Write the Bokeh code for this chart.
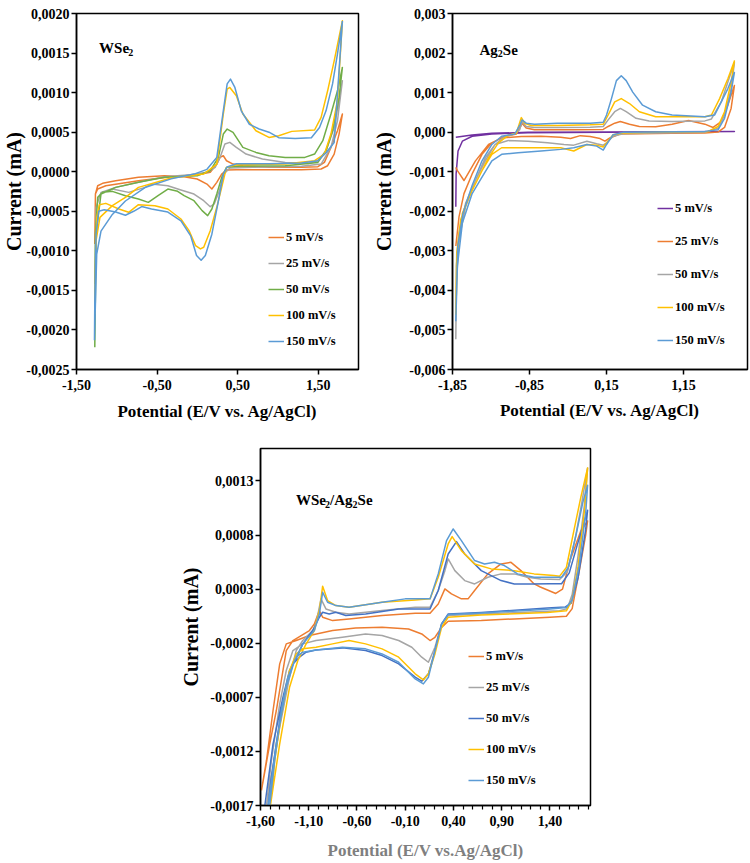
from bokeh.plotting import figure
from bokeh.models import Range1d, FixedTicker, CustomJSTickFormatter, Label, Spacer
from bokeh.layouts import column, row
from bokeh.embed import file_html
from bokeh.resources import INLINE

FONT = "Liberation Serif"

# ---------------- data (potential in V, current in mA) ----------------
rates = ["5 mV/s", "25 mV/s", "50 mV/s", "100 mV/s", "150 mV/s"]

# WSe2
wse2_x_5 = [-1.273, -1.265, -1.237, -1.136, -0.731, -0.326, -0.002, 0.160, 0.241, 0.281, 0.322, 0.362, 0.443, 0.565, 0.889, 1.293, 1.496, 1.577, 1.658, 1.739, 1.800,
            1.759, 1.698, 1.617, 1.536, 1.293, 0.484, 0.362, 0.302, 0.241, 0.180, 0.119, -0.002, -0.164, -0.407, -0.731, -1.014, -1.176, -1.237, -1.265, -1.273]
wse2_y_5 = [-9.13e-4, -2.82e-4, -2.19e-4, -1.77e-4, -1.13e-4, -0.63e-4, -0.38e-4, -0.08e-4, 0.97e-4, 1.81e-4, 2.02e-4, 1.39e-4, 0.97e-4, 0.76e-4, 0.55e-4, 0.55e-4, 0.64e-4, 1.18e-4, 3.08e-4, 5.18e-4, 7.29e-4,
            4.76e-4, 2.23e-4, 0.76e-4, 0.34e-4, 0.26e-4, 0.26e-4, 0.21e-4, -0.29e-4, -1.34e-4, -2.19e-4, -1.56e-4, -0.92e-4, -0.63e-4, -0.5e-4, -0.71e-4, -1.13e-4, -1.47e-4, -1.77e-4, -2.82e-4, -9.13e-4]
wse2_x_25 = [-1.273, -1.257, -1.196, -1.014, -0.731, -0.407, -0.083, 0.119, 0.221, 0.281, 0.342, 0.403, 0.484, 0.605, 0.808, 1.091, 1.374, 1.496, 1.597, 1.698, 1.800,
             1.739, 1.658, 1.536, 1.293, 0.686, 0.403, 0.330, 0.273, 0.209, 0.160, 0.079, -0.042, -0.204, -0.366, -0.569, -0.650, -0.852, -1.055, -1.196, -1.257, -1.273]
wse2_y_25 = [-14.19e-4, -4.5e-4, -2.61e-4, -1.98e-4, -1.34e-4, -0.63e-4, -0.38e-4, -0.08e-4, 0.55e-4, 1.81e-4, 3.5e-4, 3.71e-4, 3.08e-4, 2.23e-4, 1.6e-4, 1.18e-4, 1.05e-4, 1.39e-4, 2.66e-4, 5.6e-4, 11.5e-4,
             6.44e-4, 3.08e-4, 0.97e-4, 0.68e-4, 0.55e-4, 0.47e-4, -0.29e-4, -2.4e-4, -4.08e-4, -4.42e-4, -3.66e-4, -2.82e-4, -2.31e-4, -1.77e-4, -1.56e-4, -1.98e-4, -2.61e-4, -2.19e-4, -2.61e-4, -4.5e-4, -14.19e-4]
wse2_x_50 = [-1.273, -1.257, -1.196, -1.014, -0.731, -0.407, -0.002, 0.160, 0.261, 0.322, 0.370, 0.443, 0.565, 0.727, 0.889, 1.091, 1.334, 1.455, 1.557, 1.658, 1.739, 1.800,
             1.759, 1.678, 1.597, 1.496, 1.091, 0.484, 0.362, 0.302, 0.241, 0.180, 0.128, 0.059, -0.042, -0.164, -0.245, -0.366, -0.488, -0.609, -0.731, -0.893, -1.055, -1.176, -1.237, -1.265, -1.273]
wse2_y_50 = [-22.18e-4, -7.87e-4, -2.82e-4, -1.98e-4, -1.34e-4, -0.71e-4, -0.5e-4, 0.13e-4, 1.81e-4, 4.76e-4, 5.39e-4, 4.97e-4, 3.08e-4, 2.44e-4, 2.02e-4, 1.81e-4, 1.81e-4, 2.23e-4, 3.92e-4, 7.29e-4, 10.23e-4, 13.18e-4,
             9.39e-4, 5.18e-4, 2.66e-4, 1.18e-4, 0.76e-4, 0.68e-4, 0.55e-4, -0.71e-4, -2.82e-4, -4.71e-4, -5.55e-4, -4.92e-4, -3.66e-4, -3.03e-4, -2.48e-4, -2.19e-4, -3.03e-4, -3.87e-4, -3.45e-4, -3.03e-4, -2.48e-4, -2.61e-4, -3.24e-4, -7.87e-4, -22.18e-4]
wse2_x_100 = [-1.273, -1.257, -1.209, -1.055, -0.893, -0.731, -0.326, 0.079, 0.241, 0.322, 0.370, 0.403, 0.484, 0.565, 0.727, 0.889, 1.010, 1.172, 1.455, 1.536, 1.617, 1.698, 1.800,
              1.739, 1.658, 1.577, 1.455, 1.091, 0.484, 0.362, 0.302, 0.241, 0.160, 0.079, 0.038, -0.022, -0.103, -0.204, -0.366, -0.528, -0.731, -0.852, -0.974, -1.136, -1.217, -1.249, -1.265, -1.273]
wse2_y_100 = [-17.97e-4, -8.71e-4, -5.77e-4, -4.29e-4, -3.24e-4, -1.98e-4, -0.8e-4, -0.29e-4, 0.97e-4, 7.29e-4, 10.44e-4, 10.65e-4, 9.6e-4, 7.29e-4, 5.18e-4, 4.34e-4, 4.55e-4, 5.1e-4, 5.27e-4, 6.87e-4, 10.23e-4, 14.02e-4, 19.07e-4,
              8.97e-4, 4.76e-4, 2.23e-4, 1.39e-4, 0.97e-4, 0.89e-4, 0.55e-4, -1.98e-4, -4.5e-4, -7.45e-4, -9.55e-4, -9.76e-4, -9.34e-4, -7.45e-4, -5.98e-4, -4.71e-4, -4.29e-4, -4.17e-4, -5.13e-4, -4.71e-4, -4.0e-4, -4.17e-4, -5.77e-4, -12.08e-4, -17.97e-4]
wse2_x_150 = [-1.277, -1.249, -1.196, -1.055, -0.893, -0.650, -0.326, -0.042, 0.119, 0.241, 0.322, 0.370, 0.411, 0.464, 0.545, 0.646, 0.767, 0.889, 1.010, 1.213, 1.415, 1.516, 1.597, 1.678, 1.739, 1.800,
              1.698, 1.597, 1.496, 1.293, 0.889, 0.484, 0.370, 0.322, 0.261, 0.180, 0.099, 0.047, -0.010, -0.083, -0.204, -0.366, -0.569, -0.690, -0.791, -0.893, -1.014, -1.156, -1.225, -1.257, -1.273, -1.277]
wse2_y_150 = [-21.3e-4, -10.4e-4, -7.5e-4, -5.4e-4, -3.7e-4, -2.0e-4, -0.9e-4, -0.3e-4, 0.3e-4, 1.8e-4, 7.7e-4, 11.1e-4, 11.7e-4, 10.7e-4, 7.7e-4, 6.0e-4, 5.4e-4, 5.0e-4, 4.3e-4, 4.2e-4, 4.3e-4, 5.6e-4, 7.7e-4, 11.1e-4, 14.9e-4, 19.0e-4,
              3.7e-4, 2.4e-4, 1.4e-4, 1.1e-4, 1.0e-4, 1.0e-4, 0.6e-4, -0.3e-4, -3.7e-4, -7.9e-4, -10.6e-4, -11.2e-4, -10.6e-4, -8.1e-4, -6.2e-4, -5.1e-4, -4.7e-4, -4.4e-4, -5.0e-4, -5.5e-4, -5.1e-4, -4.8e-4, -5.0e-4, -7.9e-4, -16.3e-4, -21.3e-4]

# Ag2Se
ag_x_5 = [-1.807, -1.803, -1.778, -1.722, -1.595, -1.339, -0.871, 0.150, 1.810, 0.150, -0.871, -1.339, -1.595, -1.807]
ag_y_5 = [-18.84e-4, -10.56e-4, -4.77e-4, -2.28e-4, -1.04e-4, -0.46e-4, -0.13e-4, -0.05e-4, 0.2e-4, 0.03e-4, -0.05e-4, -0.3e-4, -0.71e-4, -1.29e-4]
ag_x_25 = [-1.807, -1.765, -1.701, -1.595, -1.467, -1.339, -1.169, -1.020, -0.965, -0.948, -0.893, -0.786, -0.276, 0.107, 0.171, 0.256, 0.329, 0.448, 0.576, 0.788, 1.001, 1.214, 1.427, 1.533, 1.639, 1.724, 1.810,
           1.767, 1.682, 1.597, 1.427, 1.001, 0.576, 0.320, 0.193, 0.129, 0.065, -0.063, -0.190, -0.318, -0.446, -0.701, -0.956, -1.212, -1.382, -1.552, -1.701, -1.786, -1.807]
ag_y_25 = [-28.78e-4, -21.33e-4, -15.53e-4, -10.56e-4, -5.6e-4, -2.7e-4, -1.04e-4, -0.46e-4, 1.44e-4, 2.27e-4, 1.03e-4, 0.61e-4, 0.61e-4, 0.7e-4, 1.44e-4, 2.27e-4, 2.68e-4, 2.02e-4, 1.44e-4, 1.36e-4, 2.02e-4, 2.93e-4, 2.02e-4, 1.19e-4, 2.68e-4, 6.82e-4, 11.79e-4,
           6.0e-4, 1.19e-4, 0.03e-4, -0.22e-4, -0.3e-4, -0.38e-4, -0.46e-4, -1.46e-4, -2.28e-4, -1.62e-4, -1.12e-4, -0.88e-4, -1.62e-4, -1.29e-4, -1.04e-4, -1.12e-4, -1.46e-4, -3.11e-4, -7.25e-4, -12.22e-4, -9.73e-4, -8.9e-4]
ag_x_50 = [-1.807, -1.799, -1.765, -1.680, -1.552, -1.424, -1.297, -1.169, -1.041, -0.978, -0.948, -0.893, -0.786, -0.488, -0.063, 0.107, 0.171, 0.256, 0.329, 0.405, 0.533, 0.703, 1.001, 1.427, 1.512, 1.639, 1.724, 1.810,
           1.767, 1.682, 1.597, 1.427, 0.788, 0.363, 0.235, 0.150, 0.107, 0.022, -0.105, -0.276, -0.403, -0.616, -0.871, -1.127, -1.297, -1.424, -1.552, -1.680, -1.765, -1.799, -1.807]
ag_y_50 = [-52.36e-4, -33.74e-4, -25.47e-4, -18.01e-4, -12.22e-4, -7.25e-4, -3.11e-4, -1.04e-4, -0.46e-4, 0.61e-4, 2.68e-4, 1.44e-4, 1.19e-4, 1.19e-4, 1.27e-4, 1.44e-4, 3.1e-4, 5.17e-4, 6.0e-4, 5.17e-4, 3.51e-4, 2.85e-4, 2.68e-4, 2.85e-4, 3.34e-4, 7.65e-4, 12.62e-4, 17.58e-4,
           10.96e-4, 4.34e-4, 1.03e-4, -0.05e-4, -0.22e-4, -0.38e-4, -1.04e-4, -2.7e-4, -3.28e-4, -2.95e-4, -2.28e-4, -3.28e-4, -3.11e-4, -2.7e-4, -2.28e-4, -2.12e-4, -3.11e-4, -6.43e-4, -12.22e-4, -18.84e-4, -27.12e-4, -37.88e-4, -52.36e-4]
ag_x_100 = [-1.807, -1.795, -1.744, -1.637, -1.510, -1.382, -1.254, -1.127, -1.020, -0.973, -0.956, -0.914, -0.829, -0.488, -0.063, 0.107, 0.171, 0.256, 0.341, 0.448, 0.576, 0.788, 1.214, 1.427, 1.512, 1.618, 1.724, 1.810,
            1.767, 1.682, 1.597, 1.469, 0.788, 0.363, 0.235, 0.150, 0.107, 0.022, -0.105, -0.276, -0.446, -0.701, -0.999, -1.212, -1.339, -1.467, -1.595, -1.722, -1.786, -1.807]
ag_y_100 = [-46.15e-4, -30.43e-4, -22.15e-4, -16.35e-4, -11.39e-4, -6.43e-4, -2.7e-4, -0.79e-4, -0.22e-4, 2.68e-4, 3.68e-4, 2.27e-4, 1.69e-4, 1.69e-4, 1.85e-4, 2.02e-4, 4.34e-4, 7.65e-4, 8.48e-4, 7.24e-4, 5.17e-4, 3.92e-4, 3.92e-4, 3.92e-4, 4.34e-4, 8.48e-4, 13.44e-4, 18.0e-4,
            12.62e-4, 5.17e-4, 1.44e-4, 0.2e-4, -0.05e-4, -0.22e-4, -0.63e-4, -2.7e-4, -3.77e-4, -3.28e-4, -3.11e-4, -4.77e-4, -3.94e-4, -3.94e-4, -3.94e-4, -3.94e-4, -5.6e-4, -9.73e-4, -14.7e-4, -20.49e-4, -30.43e-4, -46.15e-4]
ag_x_150 = [-1.807, -1.782, -1.714, -1.595, -1.467, -1.339, -1.212, -1.041, -0.973, -0.948, -0.893, -0.786, -0.488, -0.063, 0.107, 0.150, 0.214, 0.278, 0.341, 0.405, 0.490, 0.618, 0.788, 1.001, 1.427, 1.554, 1.639, 1.724, 1.810,
            1.767, 1.682, 1.597, 1.427, 0.788, 0.363, 0.235, 0.150, 0.107, 0.022, -0.105, -0.276, -0.446, -0.701, -0.999, -1.212, -1.339, -1.467, -1.595, -1.722, -1.786, -1.807]
ag_y_150 = [-47.81e-4, -28.78e-4, -20.49e-4, -13.46e-4, -7.25e-4, -3.11e-4, -1.04e-4, -0.46e-4, 1.85e-4, 3.1e-4, 2.27e-4, 2.02e-4, 2.27e-4, 2.27e-4, 2.52e-4, 4.34e-4, 8.48e-4, 13.03e-4, 14.27e-4, 13.03e-4, 10.13e-4, 6.82e-4, 5.17e-4, 4.34e-4, 3.92e-4, 4.34e-4, 7.65e-4, 10.96e-4, 15.1e-4,
            10.13e-4, 3.51e-4, 0.61e-4, 0.2e-4, 0.03e-4, -0.05e-4, -0.63e-4, -3.11e-4, -4.52e-4, -3.53e-4, -3.11e-4, -3.94e-4, -4.35e-4, -4.77e-4, -5.19e-4, -5.6e-4, -7.25e-4, -11.39e-4, -15.53e-4, -22.98e-4, -33.74e-4, -47.81e-4]

# WSe2/Ag2Se
comp_x_5 = [-1.590, -1.504, -1.436, -1.333, -1.264, -1.093, -1.042, -0.990, -0.956, -0.853, -0.682, -0.340, 0.003, 0.157, 0.242, 0.311, 0.379, 0.482, 0.551, 0.619, 0.756, 0.893, 0.996, 1.099, 1.236, 1.300, 1.460, 1.530, 1.610, 1.720, 1.790,
            1.770, 1.700, 1.630, 1.570, 1.400, 1.030, 0.688, 0.345, 0.277, 0.208, 0.157, 0.071, -0.066, -0.340, -0.614, -0.853, -1.093, -1.230, -1.333, -1.401, -1.470, -1.538, -1.590]
comp_y_5 = [-15.61e-4, -11.3e-4, -8.22e-4, -2.68e-4, -1.75e-4, -0.83e-4, -0.22e-4, 1.02e-4, 0.4e-4, 0.09e-4, 0.25e-4, 0.56e-4, 0.77e-4, 0.77e-4, 1.63e-4, 3.02e-4, 2.56e-4, 2.1e-4, 2.1e-4, 2.87e-4, 4.41e-4, 5.33e-4, 5.48e-4, 4.71e-4, 3.48e-4, 3.2e-4, 2.6e-4, 3.0e-4, 5.7e-4, 8.4e-4, 9.3e-4,
            8.0e-4, 4.5e-4, 1.2e-4, 0.5e-4, 0.4e-4, 0.25e-4, 0.09e-4, 0.03e-4, -0.53e-4, -1.45e-4, -1.75e-4, -1.14e-4, -0.68e-4, -0.53e-4, -0.59e-4, -0.83e-4, -1.29e-4, -1.75e-4, -2.06e-4, -3.91e-4, -8.22e-4, -12.84e-4, -15.61e-4]
comp_x_25 = [-1.538, -1.401, -1.299, -1.230, -1.162, -1.059, -1.025, -0.973, -0.922, -0.819, -0.682, -0.340, 0.003, 0.157, 0.242, 0.311, 0.345, 0.414, 0.516, 0.619, 0.756, 0.893, 1.030, 1.167, 1.304, 1.500, 1.580, 1.660, 1.730, 1.790,
             1.760, 1.690, 1.630, 1.580, 1.500, 1.373, 0.688, 0.345, 0.277, 0.208, 0.140, 0.071, -0.032, -0.168, -0.340, -0.511, -0.751, -1.025, -1.162, -1.264, -1.333, -1.401, -1.487, -1.538]
comp_y_25 = [-17.0e-4, -9.76e-4, -5.14e-4, -2.68e-4, -1.75e-4, -0.83e-4, -0.22e-4, 2.1e-4, 1.17e-4, 0.86e-4, 0.71e-4, 1.02e-4, 1.33e-4, 1.33e-4, 2.87e-4, 4.71e-4, 5.79e-4, 4.71e-4, 3.79e-4, 3.48e-4, 4.1e-4, 4.41e-4, 4.41e-4, 4.1e-4, 3.94e-4, 3.9e-4, 4.6e-4, 7.6e-4, 11.0e-4, 14.2e-4,
             11.0e-4, 6.0e-4, 2.5e-4, 1.2e-4, 1.0e-4, 0.95e-4, 0.7e-4, 0.56e-4, -0.22e-4, -2.37e-4, -3.76e-4, -3.29e-4, -2.37e-4, -1.75e-4, -1.29e-4, -1.14e-4, -1.45e-4, -1.75e-4, -2.06e-4, -2.68e-4, -4.52e-4, -7.61e-4, -12.84e-4, -17.0e-4]
comp_x_50 = [-1.555, -1.470, -1.367, -1.299, -1.247, -1.213, -1.162, -1.059, -0.990, -0.956, -0.888, -0.819, -0.716, -0.511, -0.168, 0.157, 0.242, 0.345, 0.431, 0.516, 0.688, 0.893, 1.030, 1.201, 1.400, 1.520, 1.600, 1.680, 1.790,
             1.770, 1.690, 1.620, 1.560, 1.373, 0.688, 0.345, 0.277, 0.208, 0.140, 0.071, 0.003, -0.168, -0.340, -0.511, -0.751, -1.025, -1.127, -1.196, -1.264, -1.333, -1.401, -1.487, -1.521]
comp_y_50 = [-17.0e-4, -11.3e-4, -6.99e-4, -4.52e-4, -3.6e-4, -3.14e-4, -2.06e-4, -0.83e-4, 0.4e-4, 0.86e-4, 0.71e-4, 0.86e-4, 0.56e-4, 0.71e-4, 1.17e-4, 1.17e-4, 2.87e-4, 6.25e-4, 7.39e-4, 6.25e-4, 4.71e-4, 3.79e-4, 3.48e-4, 3.48e-4, 3.5e-4, 3.5e-4, 4.5e-4, 7.0e-4, 10.3e-4,
             8.5e-4, 4.0e-4, 1.7e-4, 1.35e-4, 1.25e-4, 0.85e-4, 0.71e-4, -0.22e-4, -2.68e-4, -4.83e-4, -5.51e-4, -5.14e-4, -3.91e-4, -3.14e-4, -2.68e-4, -2.43e-4, -2.62e-4, -2.83e-4, -3.29e-4, -3.91e-4, -5.76e-4, -9.15e-4, -14.38e-4, -17.0e-4]
comp_x_100 = [-1.497, -1.401, -1.299, -1.213, -1.127, -1.042, -0.990, -0.956, -0.905, -0.819, -0.682, -0.340, 0.003, 0.157, 0.242, 0.345, 0.386, 0.482, 0.619, 0.790, 1.030, 1.236, 1.441, 1.500, 1.570, 1.650, 1.720, 1.790,
              1.760, 1.690, 1.630, 1.570, 1.373, 0.688, 0.345, 0.277, 0.208, 0.140, 0.088, 0.003, -0.168, -0.340, -0.511, -0.682, -0.853, -1.025, -1.162, -1.230, -1.299, -1.367, -1.453, -1.497]
comp_y_100 = [-17.0e-4, -11.3e-4, -6.07e-4, -3.6e-4, -2.06e-4, -0.83e-4, 1.02e-4, 3.27e-4, 1.94e-4, 1.48e-4, 1.33e-4, 1.79e-4, 2.0e-4, 2.1e-4, 4.1e-4, 7.18e-4, 7.86e-4, 6.56e-4, 5.33e-4, 4.87e-4, 4.71e-4, 4.41e-4, 4.25e-4, 4.2e-4, 5.0e-4, 8.5e-4, 11.5e-4, 14.2e-4,
              10.5e-4, 5.0e-4, 2.0e-4, 1.0e-4, 0.85e-4, 0.6e-4, 0.4e-4, -0.53e-4, -2.99e-4, -4.83e-4, -5.39e-4, -4.83e-4, -3.29e-4, -2.52e-4, -2.06e-4, -1.75e-4, -2.06e-4, -2.37e-4, -2.52e-4, -2.99e-4, -4.52e-4, -7.61e-4, -12.84e-4, -17.0e-4]
comp_x_150 = [-1.521, -1.436, -1.333, -1.247, -1.162, -1.042, -0.990, -0.956, -0.905, -0.819, -0.682, -0.340, -0.100, 0.157, 0.242, 0.328, 0.397, 0.482, 0.619, 0.722, 0.825, 0.927, 1.064, 1.236, 1.520, 1.590, 1.670, 1.740, 1.790,
              1.770, 1.700, 1.630, 1.570, 1.373, 0.688, 0.345, 0.277, 0.208, 0.140, 0.088, 0.003, -0.168, -0.340, -0.511, -0.751, -1.025, -1.162, -1.230, -1.316, -1.384, -1.453, -1.504]
comp_y_150 = [-17.0e-4, -11.3e-4, -6.07e-4, -3.6e-4, -2.06e-4, -0.83e-4, 0.71e-4, 2.71e-4, 1.79e-4, 1.48e-4, 1.33e-4, 1.79e-4, 2.1e-4, 2.1e-4, 4.41e-4, 7.49e-4, 8.56e-4, 7.49e-4, 5.64e-4, 5.33e-4, 5.48e-4, 5.18e-4, 4.41e-4, 4.1e-4, 4.1e-4, 5.0e-4, 8.0e-4, 11.0e-4, 12.6e-4,
              10.0e-4, 5.0e-4, 2.0e-4, 1.3e-4, 1.15e-4, 0.8e-4, 0.65e-4, -0.22e-4, -2.68e-4, -5.14e-4, -5.76e-4, -5.3e-4, -3.76e-4, -2.99e-4, -2.52e-4, -2.37e-4, -2.62e-4, -2.83e-4, -3.29e-4, -5.14e-4, -8.22e-4, -12.84e-4, -17.0e-4]

# ticks
wse2_xticks = [-1.5, -0.5, 0.5, 1.5]
wse2_yticks = [-0.0025, -0.0020, -0.0015, -0.0010, -0.0005, 0.0, 0.0005, 0.0010, 0.0015, 0.0020]
ag_xticks = [-1.85, -0.85, 0.15, 1.15]
ag_yticks = [-0.006, -0.005, -0.004, -0.003, -0.002, -0.001, 0.0, 0.001, 0.002, 0.003]
comp_xticks = [-1.6, -1.1, -0.6, -0.1, 0.4, 0.9, 1.4]
comp_xminor = [-1.5, -1.4, -1.3, -1.2, -1.0, -0.9, -0.8, -0.7, -0.5, -0.4, -0.3, -0.2, 0.0, 0.1, 0.2, 0.3,
               0.5, 0.6, 0.7, 0.8, 1.0, 1.1, 1.2, 1.3, 1.5, 1.6, 1.7, 1.8]
comp_yticks = [-0.0017, -0.0012, -0.0007, -0.0002, 0.0003, 0.0008, 0.0013]

ORANGE = "#ED7D31"; GRAY = "#A5A5A5"; GREEN = "#70AD47"; YELLOW = "#FFC000"
LBLUE = "#5B9BD5"; DBLUE = "#4472C4"; PURPLE = "#7030A0"


def fmt(dec):
    return CustomJSTickFormatter(code="return tick.toFixed(%d).replace('.', ',');" % dec)


def make(width, height, xr, yr, borders, xticks, yticks, xminor, xdec, ydec,
         xlabel_color, ylab_standoff, xlab_standoff):
    l, r, t, b = borders
    p = figure(width=width, height=height, x_range=Range1d(*xr), y_range=Range1d(*yr),
               output_backend="svg", toolbar_location=None,
               min_border_left=l, min_border_right=r, min_border_top=t, min_border_bottom=b)
    p.background_fill_color = "white"
    p.border_fill_color = "white"
    p.outline_line_color = "black"
    p.outline_line_width = 1.5
    p.xgrid.visible = False
    p.ygrid.visible = False
    p.xaxis.ticker = FixedTicker(ticks=xticks, minor_ticks=xminor)
    p.yaxis.ticker = FixedTicker(ticks=yticks, minor_ticks=[])
    p.xaxis.formatter = fmt(xdec)
    p.yaxis.formatter = fmt(ydec)
    for ax in (p.xaxis[0], p.yaxis[0]):
        ax.axis_line_color = "black"
        ax.axis_line_width = 1.5
        ax.major_tick_line_color = "black"
        ax.major_tick_line_width = 1.5
        ax.major_tick_out = 5
        ax.major_tick_in = 0
        ax.minor_tick_line_color = "black"
        ax.minor_tick_line_width = 1.2
        ax.minor_tick_out = 4
        ax.minor_tick_in = 0
        ax.major_label_text_font = FONT
        ax.major_label_text_font_style = "bold"
        ax.major_label_text_font_size = "14px"
        ax.major_label_text_color = "black"
        ax.axis_label_text_font = FONT
        ax.axis_label_text_font_style = "bold"
    p.xaxis.major_label_standoff = 5
    p.yaxis.major_label_standoff = 2
    p.xaxis.axis_label = "Potential (E/V vs. Ag/AgCl)"
    p.xaxis.axis_label_text_font_size = "17px"
    p.xaxis.axis_label_text_color = xlabel_color
    p.xaxis.axis_label_standoff = xlab_standoff
    p.yaxis.axis_label = "Current (mA)"
    p.yaxis.axis_label_text_font_size = "20px"
    p.yaxis.axis_label_text_color = "black"
    p.yaxis.axis_label_standoff = ylab_standoff
    return p


def add_legend(p, x, y, spacing):
    lg = p.legend[0]
    lg.location = (x, y)
    lg.background_fill_alpha = 0
    lg.border_line_alpha = 0
    lg.padding = 0
    lg.margin = 0
    lg.spacing = spacing
    lg.glyph_width = 16
    lg.glyph_height = 20
    lg.label_height = 20
    lg.label_standoff = 2
    lg.label_text_font = FONT
    lg.label_text_font_style = "bold"
    lg.label_text_font_size = "12.5px"
    lg.label_text_color = "black"


def add_title(p, x, y, parts):
    # parts: list of (text, is_subscript); offsets accumulate in screen px
    off = 0.0
    widths = {"W": 0.944, "S": 0.556, "e": 0.444, "A": 0.722, "g": 0.5, "/": 0.278, "2": 0.5}
    for txt, sub in parts:
        size = 10 if sub else 15
        p.add_layout(Label(x=x, y=y, x_offset=off, y_offset=-4 if sub else 0, text=txt,
                           text_font=FONT, text_font_style="bold",
                           text_font_size="%dpx" % size, text_color="black",
                           text_align="left", text_baseline="alphabetic"))
        off += sum(widths.get(c, 0.5) for c in txt) * size


# ---------------- panel 1: WSe2 ----------------
p1 = make(370, 428, (-1.5, 2.0), (-0.0025, 0.0020), (70, 12, 13, 59),
          wse2_xticks, wse2_yticks, [], 2, 4, "black", -2, 9)
for xs, ys, c, lab in [(wse2_x_5, wse2_y_5, ORANGE, rates[0]), (wse2_x_25, wse2_y_25, GRAY, rates[1]),
                       (wse2_x_50, wse2_y_50, GREEN, rates[2]), (wse2_x_100, wse2_y_100, YELLOW, rates[3]),
                       (wse2_x_150, wse2_y_150, LBLUE, rates[4])]:
    p1.line(xs, ys, line_color=c, line_width=1.5, line_join="round", legend_label=lab)
add_legend(p1, 192, 18, 6)
add_title(p1, -1.22, 0.00156, [("WSe", False), ("2", True)])

# ---------------- panel 2: Ag2Se ----------------
p2 = make(380, 428, (-1.85, 1.98), (-0.006, 0.003), (77, 3, 10, 56),
          ag_xticks, ag_yticks, [], 2, 3, "black", 11, 8)
for xs, ys, c, lab in [(ag_x_5, ag_y_5, PURPLE, rates[0]), (ag_x_25, ag_y_25, ORANGE, rates[1]),
                       (ag_x_50, ag_y_50, GRAY, rates[2]), (ag_x_100, ag_y_100, YELLOW, rates[3]),
                       (ag_x_150, ag_y_150, LBLUE, rates[4])]:
    p2.line(xs, ys, line_color=c, line_width=1.5, line_join="round", legend_label=lab)
add_legend(p2, 205, 19, 13)
add_title(p2, -1.5, 0.00208, [("Ag", False), ("2", True), ("Se", False)])

# ---------------- panel 3: WSe2/Ag2Se ----------------
p3 = make(423, 435, (-1.6, 1.82), (-0.0017, 0.0016), (80, 10, 20, 58),
          comp_xticks, comp_yticks, comp_xminor, 2, 4, "#7F7F7F", 5, 12)
p3.xaxis.axis_label = "Potential (E/V vs.Ag/AgCl)"
for xs, ys, c, lab in [(comp_x_5, comp_y_5, ORANGE, rates[0]), (comp_x_25, comp_y_25, GRAY, rates[1]),
                       (comp_x_50, comp_y_50, DBLUE, rates[2]), (comp_x_100, comp_y_100, YELLOW, rates[3]),
                       (comp_x_150, comp_y_150, LBLUE, rates[4])]:
    p3.line(xs, ys, line_color=c, line_width=1.5, line_join="round", legend_label=lab)
add_legend(p3, 208, 15, 11)
add_title(p3, -1.233, 0.00112, [("WSe", False), ("2", True), ("/Ag", False), ("2", True), ("Se", False)])

layout = column(row(p1, p2), row(Spacer(width=177, height=435), p3))

open("out.html", "w").write(file_html(layout, INLINE))
